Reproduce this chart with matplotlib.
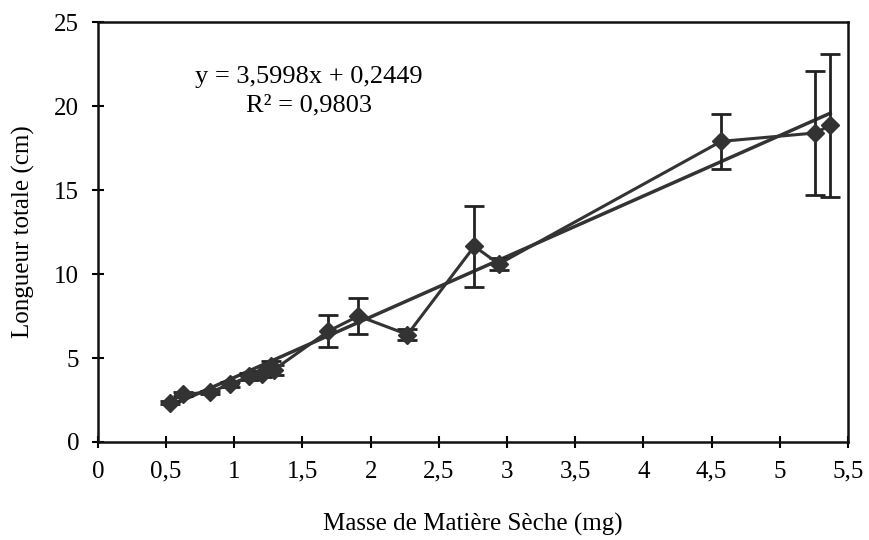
import matplotlib
matplotlib.use("Agg")
import matplotlib.pyplot as plt
import numpy as np

# Data
masse = [0.53, 0.62, 0.82, 0.97, 1.11, 1.20, 1.27, 1.29, 1.69, 1.91,
         2.27, 2.76, 2.94, 4.57, 5.26, 5.37]
longueur = [2.35, 2.85, 2.95, 3.45, 3.9, 4.05, 4.55, 4.3, 6.6, 7.5,
            6.4, 11.65, 10.6, 17.9, 18.4, 18.85]
erreur = [0.1, 0.1, 0.1, 0.15, 0.2, 0.2, 0.3, 0.3, 0.95, 1.05,
          0.3, 2.4, 0.35, 1.65, 3.7, 4.25]

pente = 3.5998
ordonnee = 0.2449
r2 = 0.9803

x_ticks = [0, 0.5, 1, 1.5, 2, 2.5, 3, 3.5, 4, 4.5, 5, 5.5]
x_tick_labels = ["0", "0,5", "1", "1,5", "2", "2,5", "3", "3,5", "4", "4,5", "5", "5,5"]
y_ticks = [0, 5, 10, 15, 20, 25]

plt.rcParams['font.family'] = ['Liberation Serif', 'DejaVu Serif']
col = '#333333'

fig = plt.figure(figsize=(8.7, 5.4), dpi=100)
ax = fig.add_axes([0.1126, 0.1815, 0.862, 0.7775])

# Error bars and connecting line
ax.errorbar(masse, longueur, yerr=erreur, fmt='-', color=col, lw=2.2,
            ecolor='#222222', elinewidth=2, capsize=7.5, capthick=2,
            marker='D', markersize=9.5, markerfacecolor=col,
            markeredgecolor=col, zorder=3)

# Linear trendline
xt = np.array([min(masse), max(masse)])
ax.plot(xt, pente * xt + ordonnee, color=col, lw=2.5, zorder=2)

ax.text(1.55, 21.75, "y = 3,5998x + 0,2449", ha='center', va='center', fontsize=19)
ax.text(1.55, 20.05, "R² = 0,9803", ha='center', va='center', fontsize=19)

ax.set_xlim(0, 5.5)
ax.set_ylim(0, 25)
ax.set_xticks(x_ticks)
ax.set_xticklabels(x_tick_labels)
ax.set_yticks(y_ticks)
ax.tick_params(direction='inout', length=9, width=1.5, labelsize=18, pad=9)
for s in ax.spines.values():
    s.set_linewidth(1.8)
    s.set_color('#111111')

ax.set_xlabel("Masse de Matière Sèche (mg)", fontsize=18, labelpad=22)
ax.set_ylabel("Longueur totale (cm)", fontsize=18, labelpad=14)

fig.savefig("out.png", dpi=100)
